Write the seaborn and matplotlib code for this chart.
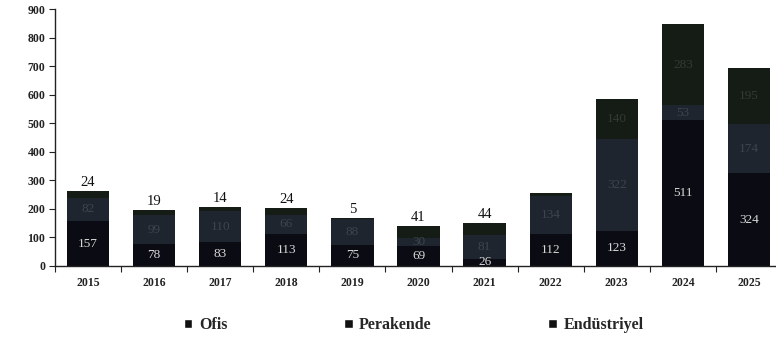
import matplotlib
matplotlib.use("Agg")
import matplotlib.pyplot as plt
import seaborn as sns
import pandas as pd
from matplotlib.patches import Patch

years = ["2015", "2016", "2017", "2018", "2019", "2020", "2021", "2022", "2023", "2024", "2025"]
ofis = [157, 78, 83, 113, 75, 69, 26, 112, 123, 511, 324]
perakende = [82, 99, 110, 66, 88, 30, 81, 134, 322, 53, 174]
endustriyel = [24, 19, 14, 24, 5, 41, 44, 9, 140, 283, 195]

sns.set_theme(style="white")
plt.rcParams["font.family"] = ["Liberation Serif", "DejaVu Serif"]

colors = {"Ofis": "#0b0b14", "Perakende": "#1f252e", "Endüstriyel": "#151c16"}

df = pd.DataFrame({"Yıl": years, "Ofis": ofis, "Perakende": perakende, "Endüstriyel": endustriyel})

fig = plt.figure(figsize=(7.76, 3.45), dpi=100)
ax = fig.add_axes([55 / 776, 79 / 345, 727 / 776, 257 / 345])

bottom = [0] * len(years)
for name in ["Ofis", "Perakende", "Endüstriyel"]:
    sns.barplot(data=df, x="Yıl", y=name, ax=ax, color=colors[name], bottom=bottom,
                width=0.64, saturation=1, edgecolor="none", linewidth=0)
    bottom = [b + v for b, v in zip(bottom, df[name])]

totals = bottom
# segment labels: small industrial values sit above the bar, larger ones inside
for i, (o, p, e, t) in enumerate(zip(ofis, perakende, endustriyel, totals)):
    ax.text(i, o / 2, str(o), ha="center", va="center", color="#d8d8d8", fontsize=9.5)
    ax.text(i, o + p / 2, str(p), ha="center", va="center", color="#3e444c", fontsize=9.5)
    if i <= 6:
        ax.text(i, t + 6, str(e), ha="center", va="bottom", color="#111111", fontsize=10.5)
    elif e > 50:
        ax.text(i, o + p + e / 2, str(e), ha="center", va="center", color="#323b31", fontsize=9.5)

ax.set_xlim(-0.5, 10.5)
ax.set_ylim(0, 900)
ax.set_yticks(range(0, 901, 100))
ax.set_xlabel("")
ax.set_ylabel("")
for s in ["top", "right"]:
    ax.spines[s].set_visible(False)
for s in ["left", "bottom"]:
    ax.spines[s].set_color("#222222")
    ax.spines[s].set_linewidth(1.0)
ax.tick_params(axis="y", left=True, length=4, width=0.8, color="#222222", labelsize=8.5, pad=3)
ax.tick_params(axis="x", bottom=False, labelsize=8.5, pad=2)
ax.set_xticks([i + 0.5 for i in range(-1, 11)], minor=True)
ax.tick_params(axis="x", which="minor", bottom=True, length=4, width=0.8, color="#222222")
for lbl in ax.get_xticklabels() + ax.get_yticklabels():
    lbl.set_fontweight("bold")
    lbl.set_color("#222222")

handles = [Patch(facecolor="#111111", label=n) for n in ["Ofis", "Perakende", "Endüstriyel"]]
fig.legend(handles=handles, loc="center", bbox_to_anchor=(0.533, 0.058), ncol=3, frameon=False,
           handlelength=0.55, handleheight=0.55, handletextpad=0.4, columnspacing=7.3,
           prop={"weight": "bold", "size": 11.5})

fig.savefig("out.png", dpi=100)
